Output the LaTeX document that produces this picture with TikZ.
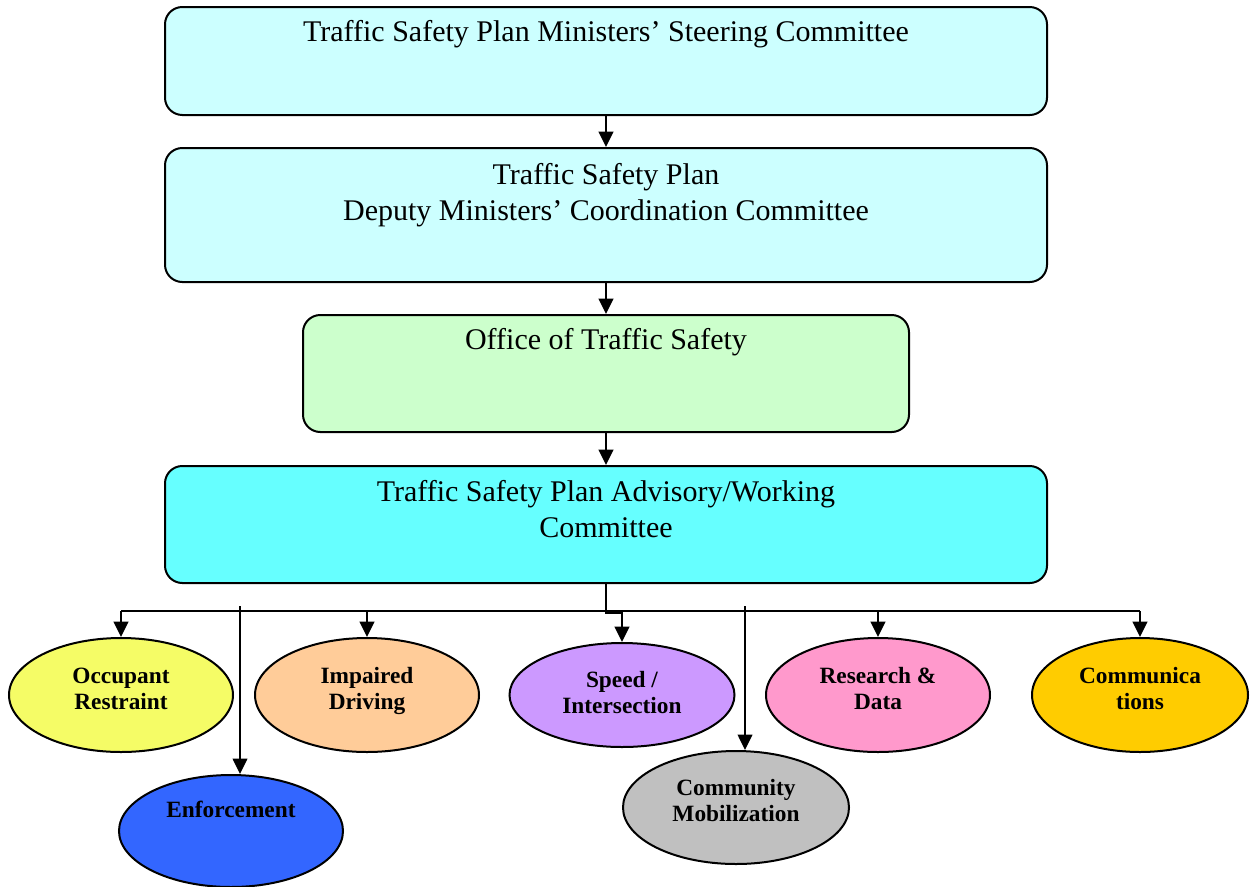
\documentclass[tikz,border=0pt]{standalone}
\usepackage{fontspec}
\setmainfont{Liberation Serif}
\usetikzlibrary{shapes.geometric,arrows.meta}
\definecolor{paleCyan}{HTML}{CCFFFF}
\definecolor{paleGreen}{HTML}{CCFFCC}
\definecolor{brightCyan}{HTML}{66FFFF}
\definecolor{ovYellow}{HTML}{F5FC66}
\definecolor{ovPeach}{HTML}{FFCC99}
\definecolor{ovLilac}{HTML}{CC99FF}
\definecolor{ovPink}{HTML}{FF99CC}
\definecolor{ovGold}{HTML}{FFCC00}
\definecolor{ovBlue}{HTML}{3366FF}
\definecolor{ovGrey}{HTML}{C0C0C0}
\begin{document}
\begin{tikzpicture}[x=0.75pt,y=-0.75pt,
  box/.style={draw=black, line width=1.5pt, rounded corners=13pt, inner sep=0pt},
  boxtext/.style={font=\fontsize{22.5}{27}\selectfont, align=center, inner sep=0pt},
  oval/.style={ellipse, draw=black, line width=1.5pt, inner sep=0pt, minimum width=168pt, minimum height=85.5pt},
  ovaltext/.style={font=\bfseries\fontsize{17.5}{20}\selectfont, align=center, inner sep=0pt},
  arr/.style={line width=1.5pt, -{Triangle[width=11pt,length=11.5pt]}},
  thinarr/.style={line width=1.1pt, -{Triangle[width=11pt,length=11.5pt]}}]
\useasboundingbox (0,0) rectangle (1257,886);

% boxes
\node[box, fill=paleCyan, minimum width=661.5pt, minimum height=81pt] (b1) at (606,61) {};
\node[box, fill=paleCyan, minimum width=661.5pt, minimum height=100.5pt] (b2) at (606,215) {};
\node[box, fill=paleGreen, minimum width=454.5pt, minimum height=87.75pt] (b3) at (606,373.5) {};
\node[box, fill=brightCyan, minimum width=661.5pt, minimum height=87.75pt] (b4) at (606,524.5) {};

\node[boxtext, anchor=base] (t1) at (606,41) {Traffic Safety Plan Ministers’ Steering Committee};
\node[boxtext] (t2) at (606,195.5) {Traffic Safety Plan\\Deputy Ministers’ Coordination Committee};
\node[boxtext, anchor=base] (t3) at (606,349) {Office of Traffic Safety};
\node[boxtext] (t4) at (606,509.5) {Traffic Safety Plan Advisory/Working\\Committee};

% ovals
\node[oval, fill=ovYellow] (occ) at (121,695) {};
\node[oval, fill=ovPeach] (imp) at (367,695) {};
\node[oval, fill=ovLilac, minimum width=168.75pt, minimum height=78pt] (spd) at (622,695) {};
\node[oval, fill=ovPink] (res) at (878,695) {};
\node[oval, fill=ovGold, minimum width=162pt] (com) at (1140,695) {};
\node[oval, fill=ovBlue, minimum height=84pt] (enf) at (231,831) {};
\node[oval, fill=ovGrey, minimum width=169.5pt, minimum height=84.75pt] (cmm) at (736,807.5) {};

\node[ovaltext] (l1) at (121,691) {\strut Occupant\\\strut Restraint};
\node[ovaltext] (l2) at (367,691) {\strut Impaired\\\strut Driving};
\node[ovaltext] (l3) at (622,695) {\strut Speed /\\\strut Intersection};
\node[ovaltext] (l4) at (878,691) {\strut Research \&\\\strut Data};
\node[ovaltext] (l5) at (1140,691) {\strut Communica\\\strut tions};
\node[ovaltext] (l6) at (231,812.5) {\strut Enforcement};
\node[ovaltext] (l7) at (736,803) {\strut Community\\\strut Mobilization};

% vertical chain
\draw[arr] (b1.south) -- (b2.north);
\draw[arr] (b2.south) -- (b3.north);
\draw[arr] (b3.south) -- (b4.north);

% bus
\coordinate (busL) at (121,611);
\coordinate (busR) at (1140,611);
\coordinate (jn) at (622,613);
\coordinate (ef) at (240,606);
\coordinate (cf) at (745,606);
\draw[line width=1.5pt] (busL) -- (busR);
\draw[arr] (b4.south) |- (jn) -- (spd.north);
\draw[arr] (busL) -- (occ.north);
\draw[arr] (imp.north |- busL) -- (imp.north);
\draw[arr] (res.north |- busL) -- (res.north);
\draw[arr] (busR) -- (com.north);
\draw[thinarr] (ef) -- (ef |- enf.north);
\draw[thinarr] (cf) -- (cf |- cmm.north);
\end{tikzpicture}
\end{document}
